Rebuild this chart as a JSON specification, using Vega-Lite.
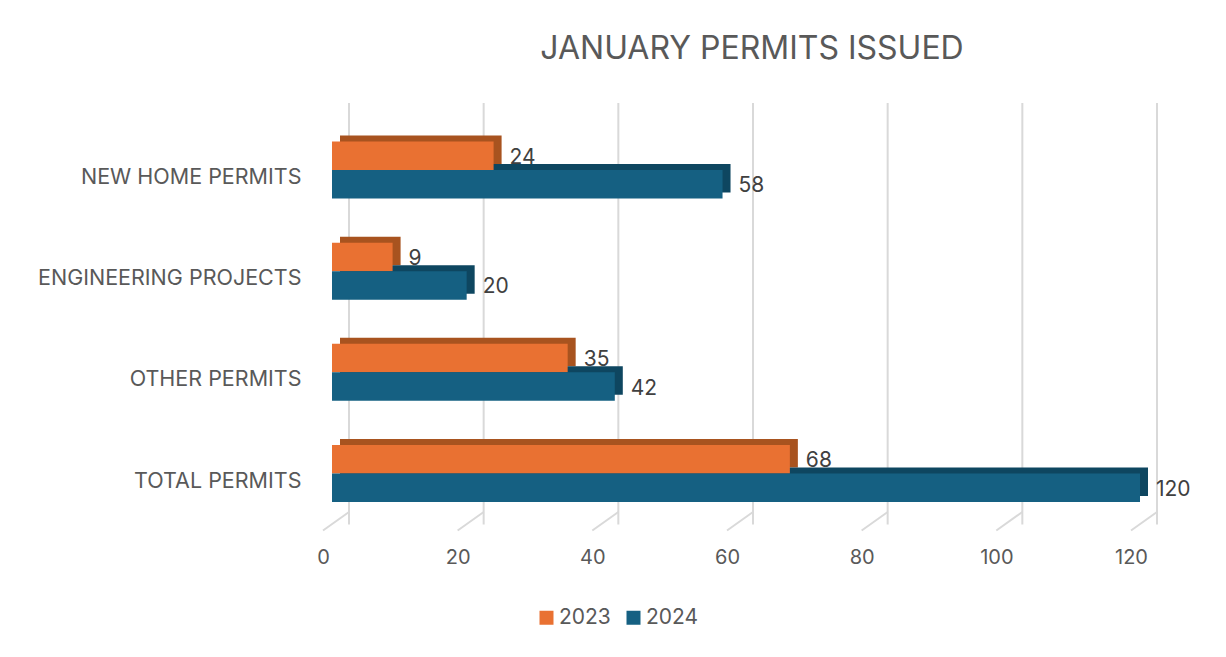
{
  "$schema": "https://vega.github.io/schema/vega-lite/v6.json",
  "width": 808,
  "height": 405.5,
  "autosize": {"type": "none"},
  "padding": {"left": 332, "top": 119, "right": 86, "bottom": 132.5},
  "background": "white",
  "title": {"text": "JANUARY PERMITS ISSUED", "fontSize": 32, "font": "Inter", "fontWeight": "normal", "color": "#595959", "offset": 36, "dx": 16},
  "datasets": {
    "permits": [
      {"category": "NEW HOME PERMITS", "year": "2023", "count": 24},
      {"category": "NEW HOME PERMITS", "year": "2024", "count": 58},
      {"category": "ENGINEERING PROJECTS", "year": "2023", "count": 9},
      {"category": "ENGINEERING PROJECTS", "year": "2024", "count": 20},
      {"category": "OTHER PERMITS", "year": "2023", "count": 35},
      {"category": "OTHER PERMITS", "year": "2024", "count": 42},
      {"category": "TOTAL PERMITS", "year": "2023", "count": 68},
      {"category": "TOTAL PERMITS", "year": "2024", "count": 120}
    ],
    "ticks": [{"t": 0}, {"t": 20}, {"t": 40}, {"t": 60}, {"t": 80}, {"t": 100}, {"t": 120}]
  },
  "layer": [
    {
      "data": {"name": "ticks"},
      "mark": {"type": "rule", "color": "#d9d9d9", "strokeWidth": 2, "xOffset": 17, "yOffset": -16, "y2Offset": -12.5},
      "encoding": {
        "x": {"field": "t", "type": "quantitative", "scale": {"domain": [0, 120], "nice": false}, "title": null}
      }
    },
    {
      "data": {"name": "ticks"},
      "mark": {"type": "rule", "color": "#d9d9d9", "strokeWidth": 2, "xOffset": -9, "x2Offset": 17, "yOffset": 6, "y2Offset": -12.5},
      "encoding": {
        "x": {"field": "t", "type": "quantitative", "title": null},
        "x2": {"field": "t"},
        "y": {"value": "height"},
        "y2": {"value": "height"}
      }
    },
    {
      "data": {"name": "permits"},
      "mark": {"type": "bar", "xOffset": 8, "x2Offset": 8},
      "encoding": {
        "y": {"field": "category", "type": "nominal", "sort": ["NEW HOME PERMITS", "ENGINEERING PROJECTS", "OTHER PERMITS", "TOTAL PERMITS"], "scale": {"paddingInner": 0.437, "paddingOuter": 0.222}, "title": null},
        "x": {"field": "count", "type": "quantitative", "title": null},
        "yOffset": {"field": "year", "type": "nominal", "scale": {"range": [-6, 51]}},
        "color": {"condition": {"test": "datum.year === '2023'", "value": "#A8531F"}, "value": "#0E4660"}
      }
    },
    {
      "data": {"name": "permits"},
      "mark": {"type": "bar"},
      "encoding": {
        "y": {"field": "category", "type": "nominal", "sort": ["NEW HOME PERMITS", "ENGINEERING PROJECTS", "OTHER PERMITS", "TOTAL PERMITS"], "title": null},
        "x": {"field": "count", "type": "quantitative", "title": null, "axis": {"values": [0, 20, 40, 60, 80, 100, 120]}},
        "yOffset": {"field": "year", "type": "nominal"},
        "color": {
          "field": "year", "type": "nominal",
          "scale": {"domain": ["2023", "2024"], "range": ["#E97132", "#156082"]},
          "legend": {"orient": "none", "legendX": 204, "legendY": 488, "direction": "horizontal", "title": null, "symbolType": "square", "symbolSize": 196, "symbolStrokeWidth": 0, "labelFontSize": 21, "labelFont": "Inter", "labelColor": "#595959", "columnPadding": 12, "labelOffset": 2}
        }
      }
    },
    {
      "data": {"name": "permits"},
      "mark": {"type": "text", "align": "left", "baseline": "middle", "dx": 16, "dy": 2, "fontSize": 21, "font": "Inter", "color": "#404040"},
      "encoding": {
        "y": {"field": "category", "type": "nominal", "sort": ["NEW HOME PERMITS", "ENGINEERING PROJECTS", "OTHER PERMITS", "TOTAL PERMITS"], "title": null},
        "x": {"field": "count", "type": "quantitative", "title": null},
        "yOffset": {"field": "year", "type": "nominal"},
        "text": {"field": "count", "type": "quantitative"}
      }
    }
  ],
  "resolve": {"scale": {"yOffset": "independent"}},
  "config": {
    "view": {"stroke": null},
    "axisY": {"domain": false, "ticks": false, "grid": false, "labelFontSize": 21.5, "labelFont": "Inter", "labelColor": "#595959", "labelPadding": 31, "labelOffset": 8, "labelLimit": 0},
    "axisX": {"domain": false, "ticks": false, "grid": false, "labelFontSize": 20, "labelFont": "Inter", "labelColor": "#595959", "labelPadding": 23, "labelOffset": -9, "labelFlush": false}
  }
}
